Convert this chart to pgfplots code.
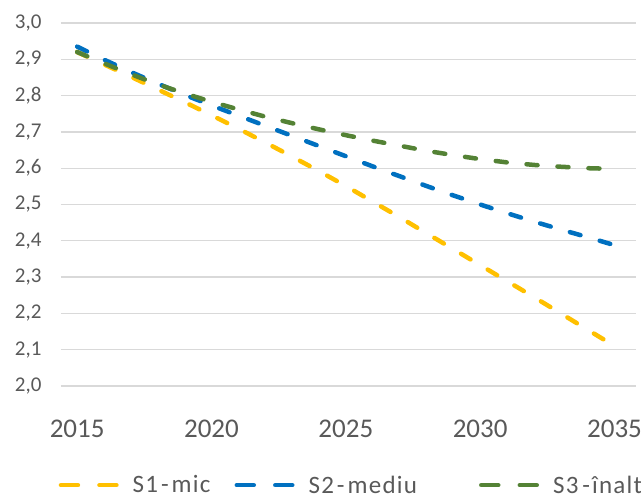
\documentclass[border=0pt]{standalone}
\usepackage{fontspec}
\setmainfont{Carlito}
\usepackage{pgfplots}
\pgfplotsset{compat=1.18}
\usetikzlibrary{calc}

\definecolor{sOne}{HTML}{FFC000}
\definecolor{sTwo}{HTML}{0070C0}
\definecolor{sThree}{HTML}{548235}
\definecolor{txtgray}{HTML}{595959}
\definecolor{gridgray}{HTML}{D9D9D9}

\pgfplotstableread{
year  mic    mediu  inalt
2015  2.920  2.935  2.920
2016  2.886  2.899  2.889
2017  2.852  2.865  2.859
2018  2.817  2.833  2.831
2019  2.782  2.802  2.806
2020  2.746  2.773  2.783
2021  2.709  2.745  2.762
2022  2.671  2.717  2.742
2023  2.632  2.689  2.724
2024  2.592  2.661  2.707
2025  2.551  2.633  2.691
2026  2.508  2.605  2.676
2027  2.465  2.578  2.662
2028  2.421  2.551  2.648
2029  2.377  2.525  2.636
2030  2.333  2.500  2.625
2031  2.289  2.476  2.616
2032  2.245  2.453  2.609
2033  2.200  2.431  2.604
2034  2.155  2.410  2.600
2035  2.110  2.388  2.598
}\scen

\begin{document}
\begin{tikzpicture}
  \begin{axis}[
    scale only axis, width=575pt, height=363pt,
    xmin=2014.4, xmax=2035.8, ymin=2, ymax=3,
    xtick={2015,2020,2025,2030,2035},
    ytick={2,2.1,2.2,2.3,2.4,2.5,2.6,2.7,2.8,2.9,3},
    axis line style={draw=none}, major tick length=0pt,
    ymajorgrids, grid style={gridgray, line width=1.3pt},
    /pgf/number format/assume math mode=true,
    xticklabel style={font=\fontsize{27}{30}\selectfont, text=txtgray, /pgf/number format/1000 sep={}, yshift=-30pt},
    yticklabel style={font=\fontsize{21}{24}\selectfont, text=txtgray, anchor=east, xshift=-16pt,
      /pgf/number format/.cd, fixed, fixed zerofill, precision=1, use comma},
    every axis plot/.append style={line width=4.5pt, line cap=round, dash pattern=on 11pt off 20pt},
    legend image code/.code={\draw[#1, solid, line width=4.5pt, line cap=round, dash pattern=on 17pt off 21.5pt] (0pt,0pt) -- (55.5pt,0pt);},
    legend style={at={(0.505,-0.273)}, anchor=center, draw=none, fill=none,
      legend columns=3, font=\fontsize{25}{28}\selectfont\addfontfeature{LetterSpace=5}, text=txtgray,
      /tikz/every odd column/.append style={column sep=12pt},
      /tikz/column 2/.style={column sep=22pt},
      /tikz/column 4/.style={column sep=60pt}},
  ]
    \addplot[sOne] table[x=year, y=mic] {\scen};
    \addlegendentry{S1\hspace{3pt}-\hspace{3pt}mic}
    \addplot[sTwo] table[x=year, y=mediu] {\scen};
    \addlegendentry{S2\hspace{3pt}-\hspace{3pt}mediu}
    \addplot[sThree] table[x=year, y=inalt] {\scen};
    \addlegendentry{S3\hspace{4pt}-\hspace{2pt}înalt}
    \coordinate (bl) at (rel axis cs:0,0);
    \coordinate (tr) at (rel axis cs:1,1);
  \end{axis}
  \pgfresetboundingbox
  \path ($(bl)+(-61pt,-109pt)$) rectangle ($(tr)+(5pt,23pt)$);
\end{tikzpicture}
\end{document}
